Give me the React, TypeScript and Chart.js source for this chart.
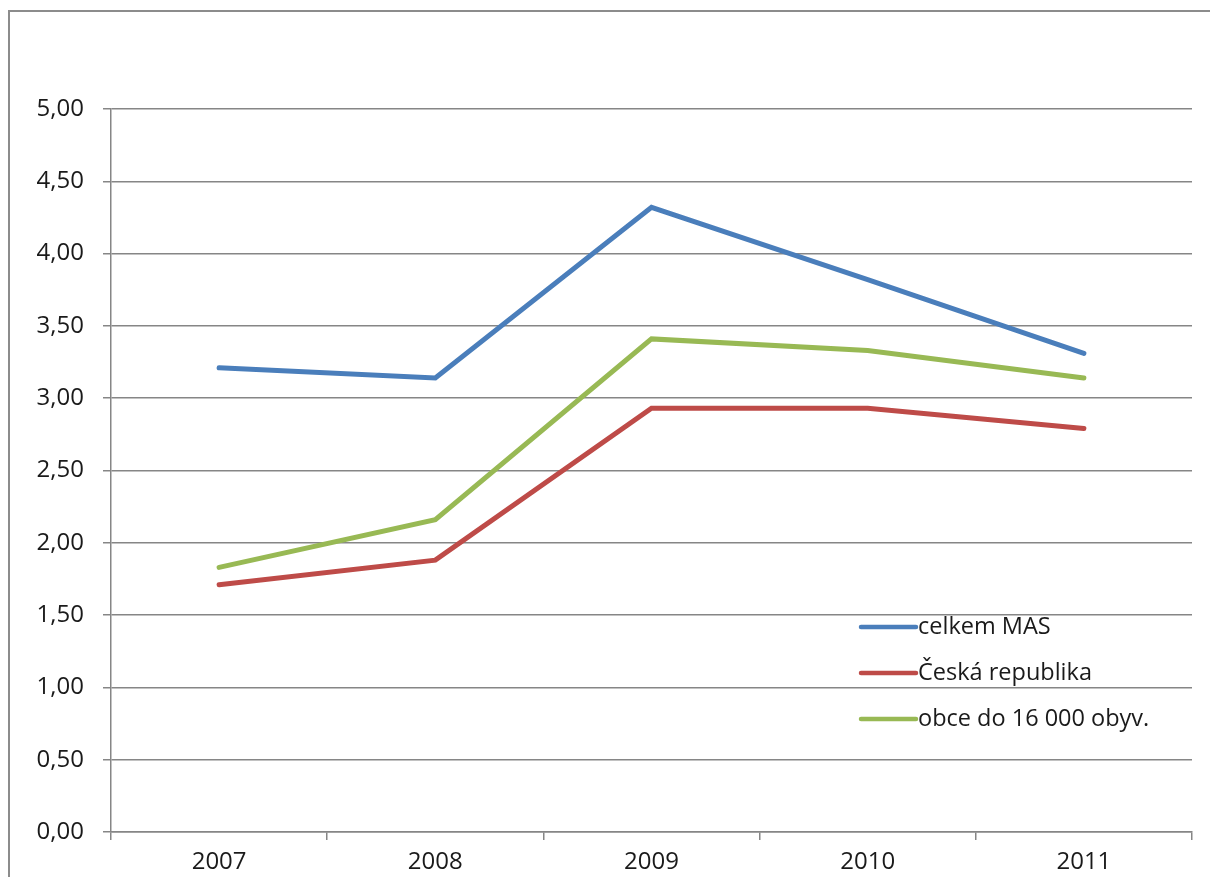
import React, { useEffect, useRef } from "react";
import { Chart, registerables } from "chart.js";

Chart.register(...registerables);

const years = ["2007", "2008", "2009", "2010", "2011"];
const celkemMAS = [3.21, 3.14, 4.32, 3.82, 3.31];
const ceskaRepublika = [1.71, 1.88, 2.93, 2.93, 2.79];
const obceDo16000 = [1.83, 2.16, 3.41, 3.33, 3.14];
const seriesLabels = ["celkem MAS", "Česká republika", "obce do 16 000 obyv."];
const seriesColors = ["#4a7ebb", "#be4b48", "#98b954"];

const FONT = "'Open Sans', 'Noto Sans', sans-serif";

const legendPlugin = {
  id: "insideLegend",
  afterDatasetsDraw(chart: any) {
    const ctx = chart.ctx;
    const x0 = 861;
    const x1 = 916;
    const rows = [627, 673, 719];
    ctx.save();
    chart.data.datasets.forEach((ds: any, i: number) => {
      const y = rows[i];
      ctx.strokeStyle = ds.borderColor;
      ctx.lineWidth = 4.5;
      ctx.lineCap = "round";
      ctx.beginPath();
      ctx.moveTo(x0, y);
      ctx.lineTo(x1, y);
      ctx.stroke();
      ctx.fillStyle = "#1a1a1a";
      ctx.font = `23.5px ${FONT}`;
      ctx.textBaseline = "middle";
      ctx.textAlign = "left";
      ctx.fillText(ds.label, x1 + 2, y);
    });
    ctx.restore();
  },
};

export default function App() {
  const ref = useRef<HTMLCanvasElement>(null);
  useEffect(() => {
    if (!ref.current) return;
    const values = [celkemMAS, ceskaRepublika, obceDo16000];
    const chart = new Chart(ref.current, {
      type: "line",
      data: {
        labels: years,
        datasets: values.map((v, i) => ({
          label: seriesLabels[i],
          data: v,
          borderColor: seriesColors[i],
          backgroundColor: seriesColors[i],
          borderWidth: 5,
          pointRadius: 0,
          tension: 0,
          borderCapStyle: "round" as const,
        })),
      },
      options: {
        animation: false,
        responsive: false,
        maintainAspectRatio: false,
        layout: { padding: { left: 0, right: 18, top: 109, bottom: 0 } },
        plugins: {
          legend: { display: false },
          tooltip: { enabled: false },
        },
        scales: {
          x: {
            offset: true,
            grid: {
              offset: true,
              drawOnChartArea: false,
              drawTicks: true,
              tickLength: 8,
              color: "#868686",
              lineWidth: 1.5,
            },
            border: { color: "#868686", width: 1.5 },
            ticks: {
              color: "#1a1a1a",
              font: { family: FONT, size: 24 },
              padding: 8,
              maxRotation: 0,
            },
            afterFit: (axis: any) => {
              axis.height = 45;
            },
          },
          y: {
            min: 0,
            max: 5,
            ticks: {
              stepSize: 0.5,
              color: "#1a1a1a",
              font: { family: FONT, size: 24 },
              padding: 19,
              callback: (v: any) => Number(v).toFixed(2).replace(".", ","),
            },
            grid: {
              color: "#868686",
              lineWidth: 1.5,
              tickLength: 8,
            },
            border: { color: "#868686", width: 1.5 },
            afterFit: (axis: any) => {
              axis.width = 111;
            },
          },
        },
      },
      plugins: [legendPlugin],
    });
    return () => chart.destroy();
  }, []);

  return (
    <div
      style={{
        position: "absolute",
        left: 0,
        top: 0,
        width: 1210,
        height: 877,
        background: "#fff",
        overflow: "hidden",
      }}
    >
      <div
        style={{
          position: "absolute",
          left: 8,
          top: 10,
          width: 1300,
          height: 1000,
          borderLeft: "2px solid #8c8c8c",
          borderTop: "2px solid #8c8c8c",
        }}
      />
      <canvas
        ref={ref}
        width={1210}
        height={877}
        style={{ position: "absolute", left: 0, top: 0 }}
      />
    </div>
  );
}
